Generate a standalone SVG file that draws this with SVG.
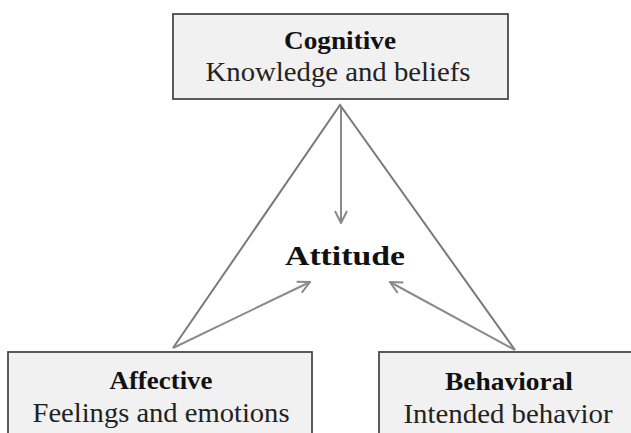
<svg xmlns="http://www.w3.org/2000/svg" width="631" height="433" viewBox="0 0 631 433">
<style>
.box{fill:#f1f1f1;stroke:#4a4a4a;stroke-width:1.8}
.b{font-family:"Liberation Serif","Times New Roman",serif;font-weight:bold;fill:#111;text-anchor:middle}
.r{font-family:"Liberation Serif","Times New Roman",serif;fill:#222;text-anchor:middle}
.edge{stroke:#7a7a7a;stroke-width:2;fill:none}
.arr{stroke:#8a8a8a;stroke-width:2;fill:none;marker-end:url(#ah)}
</style>
<defs>
<marker id="ah" viewBox="0 0 14 14" refX="13" refY="7" markerWidth="14" markerHeight="14" markerUnits="userSpaceOnUse" orient="auto">
<path d="M1,1 L13,7 L1,13" fill="none" stroke="#8a8a8a" stroke-width="2"/>
</marker>
</defs>
<rect width="631" height="433" fill="#fff"/>
<g id="connectors">
<path class="edge" d="M173,348 L340,105 L515,350"/>
<line class="arr" x1="341" y1="105" x2="341" y2="223"/>
<line class="arr" x1="173" y1="348" x2="310" y2="282"/>
<line class="arr" x1="515" y1="350" x2="390" y2="282"/>
</g>
<g id="cognitive">
<rect class="box" x="173" y="14" width="335" height="85"/>
<text class="b" x="340" y="49" font-size="26" textLength="112" lengthAdjust="spacingAndGlyphs">Cognitive</text>
<text class="r" x="338" y="81" font-size="27" textLength="265" lengthAdjust="spacingAndGlyphs">Knowledge and beliefs</text>
</g>
<g id="attitude">
<text class="b" x="345" y="265" font-size="28" textLength="120" lengthAdjust="spacingAndGlyphs">Attitude</text>
</g>
<g id="affective">
<rect class="box" x="8" y="352" width="304" height="90"/>
<text class="b" x="161" y="389" font-size="26" textLength="103" lengthAdjust="spacingAndGlyphs">Affective</text>
<text class="r" x="161" y="422" font-size="27" textLength="257" lengthAdjust="spacingAndGlyphs">Feelings and emotions</text>
</g>
<g id="behavioral">
<rect class="box" x="379" y="352" width="260" height="90"/>
<text class="b" x="509" y="390" font-size="26" textLength="128" lengthAdjust="spacingAndGlyphs">Behavioral</text>
<text class="r" x="508" y="423" font-size="27" textLength="209" lengthAdjust="spacingAndGlyphs">Intended behavior</text>
</g>
</svg>
